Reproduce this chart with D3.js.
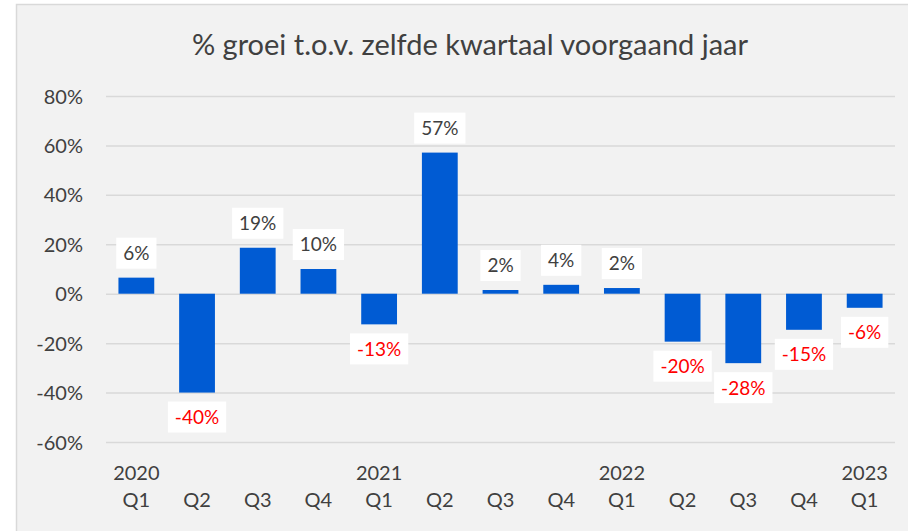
<!DOCTYPE html>
<html>
<head>
<meta charset="utf-8">
<script src="https://cdn.jsdelivr.net/npm/d3@7"></script>
<style>
  html, body { margin: 0; padding: 0; background: #ffffff; }
  svg { display: block; }
  text { font-family: Lato, "Open Sans", sans-serif; }
</style>
</head>
<body>
<svg id="chart" width="908" height="531"></svg>
<script>
const title = "% groei t.o.v. zelfde kwartaal voorgaand jaar";
const quarters = ["Q1","Q2","Q3","Q4","Q1","Q2","Q3","Q4","Q1","Q2","Q3","Q4","Q1"];
const years    = ["2020","","","","2021","","","","2022","","","","2023"];
const values   = [6.5, -40, 18.6, 10, -12.4, 57.1, 1.5, 3.6, 2.3, -19.4, -28.1, -14.6, -5.7];
const valueLabels = ["6%","-40%","19%","10%","-13%","57%","2%","4%","2%","-20%","-28%","-15%","-6%"];
const yTicks   = [-60, -40, -20, 0, 20, 40, 60, 80];

const svg = d3.select("#chart");
const W = 908, H = 531;
const keys = d3.range(values.length);

// chart area background with border
svg.append("rect")
  .attr("x", 16.5).attr("y", 4.5)
  .attr("width", W + 20).attr("height", H + 20)
  .attr("fill", "#f2f2f2").attr("stroke", "#d9d9d9").attr("stroke-width", 1.5);

const x = d3.scaleBand().domain(keys).range([106, 895]).paddingInner(0.41).paddingOuter(0.205);
const y = d3.scaleLinear().domain([-60, 80]).range([442, 96]);

// title
svg.append("text")
  .attr("x", 470).attr("y", 55)
  .attr("text-anchor", "middle")
  .attr("font-size", 29)
  .attr("fill", "#404040")
  .text(title);

// gridlines via axis
const yAxis = d3.axisLeft(y).tickValues(yTicks).tickSize(-(895 - 106)).tickFormat(d => d + "%");
const gy = svg.append("g").attr("transform", "translate(106,0)").call(yAxis);
gy.select(".domain").remove();
gy.selectAll(".tick line").attr("stroke", "#d9d9d9").attr("stroke-width", 1.5);
gy.selectAll(".tick text")
  .attr("x", -23).attr("dy", "0.35em")
  .attr("font-size", 20).attr("fill", "#404040")
  .attr("font-family", "Lato, 'Open Sans', sans-serif");

// bars
svg.append("g").selectAll("rect")
  .data(keys).join("rect")
  .attr("x", i => x(i))
  .attr("width", x.bandwidth())
  .attr("y", i => y(Math.max(0, values[i])))
  .attr("height", i => Math.abs(y(values[i]) - y(0)))
  .attr("fill", "#005bd3");

// value labels with white boxes
const lg = svg.append("g");
keys.forEach(i => {
  const v = values[i];
  const cx = x(i) + x.bandwidth() / 2;
  const g = lg.append("g");
  const t = g.append("text")
    .attr("text-anchor", "middle")
    .attr("font-size", 19)
    .attr("fill", v < 0 ? "#ff0000" : "#404040")
    .text(valueLabels[i]);
  const tw = t.node().getComputedTextLength();
  const bw = tw + 14, bh = 31;
  let by;
  if (v >= 0) by = y(v) - 9 - bh; else by = y(v) + 9;
  g.insert("rect", "text")
    .attr("x", cx - bw / 2).attr("y", by)
    .attr("width", bw).attr("height", bh)
    .attr("fill", "#ffffff");
  t.attr("x", cx).attr("y", by + bh / 2).attr("dy", "0.36em");
});

// x axis labels
const xg = svg.append("g");
xg.selectAll("text.q").data(keys).join("text")
  .attr("class", "q")
  .attr("x", i => x(i) + x.bandwidth() / 2)
  .attr("y", 507)
  .attr("text-anchor", "middle")
  .attr("font-size", 20).attr("fill", "#404040")
  .text(i => quarters[i]);
xg.selectAll("text.yr").data(keys.filter(i => years[i] !== "")).join("text")
  .attr("class", "yr")
  .attr("x", i => x(i) + x.bandwidth() / 2)
  .attr("y", 480)
  .attr("text-anchor", "middle")
  .attr("font-size", 20).attr("fill", "#404040")
  .text(i => years[i]);
</script>
</body>
</html>
